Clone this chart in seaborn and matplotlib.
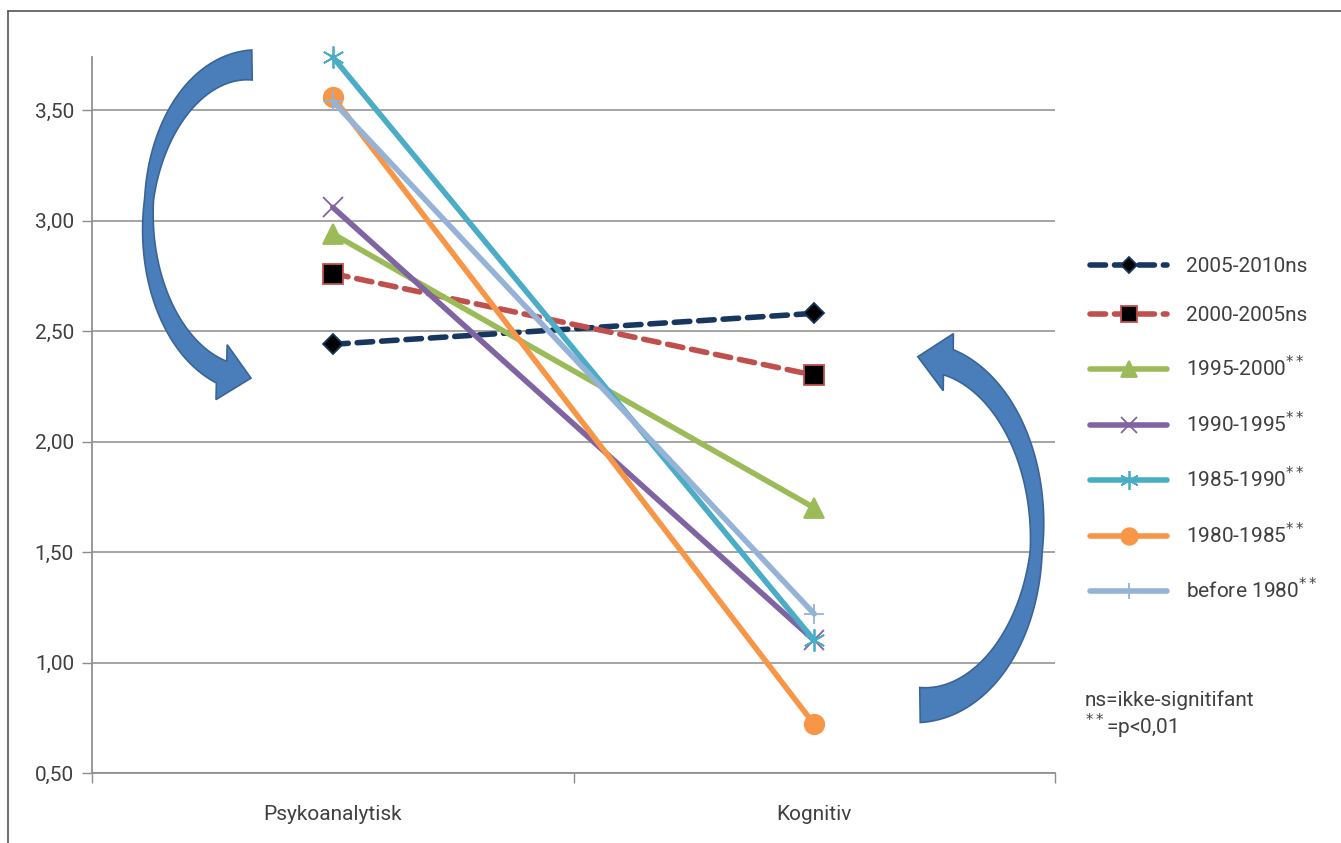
import numpy as np
import pandas as pd
import matplotlib
matplotlib.use('Agg')
import matplotlib.pyplot as plt
from matplotlib.patches import Polygon
from matplotlib.lines import Line2D
import seaborn as sns

# data
kategorier = ['Psykoanalytisk', 'Kognitiv']
perioder = ['2005-2010ns', '2000-2005ns', '1995-2000**', '1990-1995**',
            '1985-1990**', '1980-1985**', 'before 1980**']
p2005_2010 = [2.44, 2.58]
p2000_2005 = [2.76, 2.30]
p1995_2000 = [2.94, 1.70]
p1990_1995 = [3.06, 1.10]
p1985_1990 = [3.74, 1.10]
p1980_1985 = [3.56, 0.72]
p_for_1980 = [3.54, 1.22]
y_ticks = [0.5, 1.0, 1.5, 2.0, 2.5, 3.0, 3.5]

verdier = [p2005_2010, p2000_2005, p1995_2000, p1990_1995,
           p1985_1990, p1980_1985, p_for_1980]

rows = []
for per, vals in zip(perioder, verdier):
    for i, (kat, v) in enumerate(zip(kategorier, vals)):
        rows.append({'periode': per, 'kategori': kat, 'pos': i, 'verdi': v})
df = pd.DataFrame(rows)

# styles per series
farger = ['#17375E', '#C0504D', '#9BBB59', '#8064A2', '#4BACC6', '#F79646', '#95B3D7']
markorer = ['D', 's', '^', 'x', (6, 2, 0), 'o', '+']
mfarger = ['black', 'black', '#9BBB59', '#8064A2', '#4BACC6', '#F79646', '#95B3D7']
mkanter = ['#17375E', '#C0504D', '#9BBB59', '#8064A2', '#4BACC6', '#F79646', '#95B3D7']
msizes = [10, 14, 14, 14, 16, 14, 14]
stiler = [(0, (2.8, 1.6)), (0, (2.8, 1.6)), '-', '-', '-', '-', '-']

W, H = 1341, 843
sns.set_theme(style='white')
plt.rcParams['font.family'] = ['Roboto', 'DejaVu Sans']
tekst = '#404040'

fig = plt.figure(figsize=(W / 100, H / 100), dpi=100)
ax = fig.add_axes([92 / W, 1 - 773 / H, (1055 - 92) / W, (773 - 57) / H])

for k, per in enumerate(perioder):
    sub = df[df['periode'] == per]
    sns.lineplot(data=sub, x='pos', y='verdi', ax=ax, color=farger[k],
                 lw=4, linestyle=stiler[k], dash_capstyle='round',
                 solid_capstyle='round', marker=markorer[k], ms=msizes[k],
                 markerfacecolor=mfarger[k], markeredgecolor=mkanter[k],
                 mew=1.3, label=per, zorder=3 + k, clip_on=False)

ax.set_xlim(-0.5, 1.5)
ax.set_ylim(0.5, 3.74)
ax.set_yticks(y_ticks)
ax.set_yticklabels([f'{v:.2f}'.replace('.', ',') for v in y_ticks])
ax.set_xticks([0, 1])
ax.set_xticklabels(kategorier)
ax.set_xticks([-0.5, 0.5, 1.5], minor=True)
ax.set_xlabel('')
ax.set_ylabel('')
ax.grid(axis='y', color='#8C8C8C', lw=1.1)
ax.set_axisbelow(True)
for s in ['top', 'right']:
    ax.spines[s].set_visible(False)
ax.spines['left'].set_color('#8C8C8C')
ax.spines['bottom'].set_color('#8C8C8C')
ax.tick_params(axis='y', left=True, length=7, width=1, color='#8C8C8C',
               labelsize=15, labelcolor=tekst, pad=6)
ax.tick_params(axis='x', which='major', bottom=False, labelsize=15,
               labelcolor=tekst, pad=17)
ax.tick_params(axis='x', which='minor', bottom=True, length=7, width=1,
               color='#8C8C8C')

# legend
handles, labels = ax.get_legend_handles_labels()
labels = [l.replace('**', '$^{**}$') for l in labels]
leg = ax.legend(handles, labels, loc='upper left',
                bbox_to_anchor=(1090 / W, 1 - 257 / H),
                bbox_transform=fig.transFigure, frameon=False, fontsize=15,
                handlelength=3.7, handletextpad=0.9, labelspacing=1.45,
                borderpad=0, borderaxespad=0, markerscale=0.85)
for t in leg.get_texts():
    t.set_color(tekst)

fig.text(1085 / W, 1 - 700 / H, 'ns=ikke-signitifant', fontsize=15,
         color=tekst, va='center')
fig.text(1085 / W, 1 - 726 / H, '$^{**}$=p<0,01', fontsize=15,
         color=tekst, va='center')


def px(pts):
    pts = np.asarray(pts)
    return np.column_stack([pts[:, 0] / W, 1 - pts[:, 1] / H])


def curved_arrow(cx, cy, a, b, th0, th1, bredder, head_w, head_l, rot=0):
    t = np.linspace(0, 1, 150)
    th = np.radians(th0 + (th1 - th0) * t)
    c = np.column_stack([cx + a * np.cos(th), cy - b * np.sin(th)])
    d = np.gradient(c, axis=0)
    u = d / np.linalg.norm(d, axis=1)[:, None]
    n = np.column_stack([-u[:, 1], u[:, 0]])
    w = np.interp(t, [0, 0.5, 1], bredder)[:, None]
    venstre = c + n * w / 2
    hoyre = c - n * w / 2
    e = c[-1]
    ang = np.arctan2(u[-1, 1], u[-1, 0]) + np.radians(rot)
    ue = np.array([np.cos(ang), np.sin(ang)])
    ne = np.array([-ue[1], ue[0]])
    hode = [e + ne * head_w / 2, e + ue * head_l, e - ne * head_w / 2]
    poly = np.vstack([venstre, hode, hoyre[::-1]])
    fig.add_artist(Polygon(px(poly), closed=True, transform=fig.transFigure,
                           fc='#4A7EBB', ec='#3A6496', lw=1.2, zorder=20))


curved_arrow(252, 222, 104, 157, 90, 253, [30, 9, 24], 56, 30, rot=-14)
curved_arrow(920, 531, 117, 174, -90, 76, [35, 12, 27], 58, 31, rot=-11)

# outer frame
fig.add_artist(Line2D([7.5 / W, 7.5 / W], [0, 1 - 10.5 / H], color='#555555',
                      lw=1.2, transform=fig.transFigure))
fig.add_artist(Line2D([7.5 / W, 1], [1 - 10.5 / H, 1 - 10.5 / H],
                      color='#555555', lw=1.2, transform=fig.transFigure))

fig.savefig('out.png', dpi=100, facecolor='white')
